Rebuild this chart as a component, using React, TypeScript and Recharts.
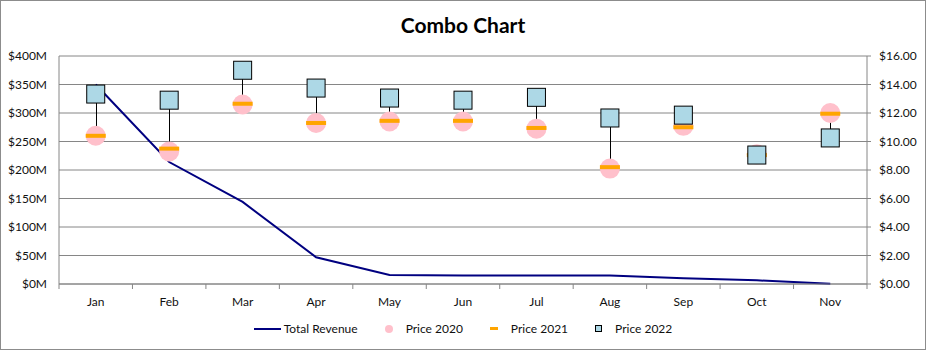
import React from "react";
import { ComposedChart, Line, Bar, XAxis, YAxis, CartesianGrid } from "recharts";

// values
const months = ["Jan", "Feb", "Mar", "Apr", "May", "Jun", "Jul", "Aug", "Sep", "Oct", "Nov"];
const totalRevenue = [350, 214, 144, 47, 16, 15, 15, 15, 10, 6.5, 0.5]; // $M
const price2020 = [10.4, 9.3, 12.6, 11.3, 11.4, 11.4, 10.9, 8.1, 11.1, 9.1, 12.0];
const price2021 = [10.4, 9.5, 12.65, 11.3, 11.45, 11.45, 10.95, 8.2, 11.0, 9.05, 11.95];
const price2022 = [13.33, 12.9, 15.0, 13.75, 13.05, 12.9, 13.1, 11.65, 11.85, 9.05, 10.25];
const revenueTicks = [0, 50, 100, 150, 200, 250, 300, 350, 400];
const priceTicks = [0, 2, 4, 6, 8, 10, 12, 14, 16];

const FONT = "Lato, 'Open Sans', sans-serif";
const GRID = "#868686";
const PLOT_W = 808;
const HALF_BAND = PLOT_W / months.length / 2;

const data = months.map((m, i) => {
  const prices = [price2020[i], price2021[i], price2022[i]];
  return {
    month: m,
    revenue: totalRevenue[i],
    p2020: price2020[i],
    p2021: price2021[i],
    p2022: price2022[i],
    hiLo: [Math.min(...prices), Math.max(...prices)],
  };
});

function MonthTick(props: any) {
  const { x, y, payload, index } = props;
  return (
    <g>
      <line x1={x - HALF_BAND} x2={x - HALF_BAND} y1={y} y2={y + 5} stroke={GRID} />
      {index === months.length - 1 && (
        <line x1={x + HALF_BAND} x2={x + HALF_BAND} y1={y} y2={y + 5} stroke={GRID} />
      )}
      <text x={x} y={y + 22} textAnchor="middle" fontSize={12} fontFamily={FONT} fill="#111">
        {payload.value}
      </text>
    </g>
  );
}

const pinkDot = (p: any) =>
  p.cx == null ? <g key={p.index} /> : <circle key={p.index} cx={p.cx} cy={p.cy} r={10} fill="#FFC0CB" />;

const orangeDash = (p: any) =>
  p.cx == null ? <g key={p.index} /> : <rect key={p.index} x={p.cx - 10} y={p.cy - 2} width={20} height={4} fill="#FFA500" />;

const blueSquare = (p: any) =>
  p.cx == null ? (
    <g key={p.index} />
  ) : (
    <rect key={p.index} x={p.cx - 9} y={p.cy - 9} width={18} height={18} fill="#ADD8E6" stroke="#000" strokeWidth={1} />
  );

const hiLoShape = (p: any) => {
  const cx = Math.round(p.x + p.width / 2) + 0.5;
  return <line x1={cx} x2={cx} y1={p.y} y2={p.y + p.height} stroke="#000" strokeWidth={1} />;
};

function LegendBar() {
  const item = (icon: React.ReactNode, label: string, gap: number) => (
    <div style={{ display: "flex", alignItems: "center" }}>
      {icon}
      <span style={{ marginLeft: gap }}>{label}</span>
    </div>
  );
  return (
    <div
      style={{
        position: "absolute",
        left: 0,
        top: 321,
        width: 926,
        display: "flex",
        justifyContent: "center",
        gap: 27,
        fontFamily: FONT,
        fontSize: 12,
        color: "#111",
      }}
    >
      {item(<div style={{ width: 27, height: 2, background: "#000080" }} />, "Total Revenue", 3)}
      {item(<div style={{ width: 8, height: 8, borderRadius: 4, background: "#FFC0CB" }} />, "Price 2020", 13)}
      {item(<div style={{ width: 8, height: 3, background: "#FFA500" }} />, "Price 2021", 13)}
      {item(
        <div style={{ width: 7, height: 7, background: "#ADD8E6", border: "1px solid #000", boxSizing: "border-box" }} />,
        "Price 2022",
        13
      )}
    </div>
  );
}

export default function App() {
  return (
    <div style={{ position: "absolute", left: 0, top: 0, width: 926, height: 350, background: "#fff" }}>
      <div
        style={{
          position: "absolute",
          left: 0,
          top: 12,
          width: 926,
          textAlign: "center",
          fontFamily: FONT,
          fontWeight: 700,
          fontSize: 21,
          color: "#000",
        }}
      >
        Combo Chart
      </div>
      <div style={{ position: "absolute", left: 0, top: 0 }}>
        <ComposedChart width={926} height={350} data={data} margin={{ top: 56, right: 0, bottom: 36, left: 0 }}>
          <CartesianGrid yAxisId="left" vertical={false} stroke={GRID} />
          <XAxis
            dataKey="month"
            height={30}
            interval={0}
            tickSize={0}
            tickMargin={0}
            tick={<MonthTick />}
            axisLine={{ stroke: GRID }}
          />
          <YAxis
            yAxisId="left"
            width={59}
            domain={[0, 400]}
            ticks={revenueTicks}
            tickFormatter={(v: number) => `$${v}M`}
            tickLine={false}
            tickSize={6}
            tickMargin={6}
            axisLine={{ stroke: GRID }}
            tick={{ fontSize: 12, fontFamily: FONT, fill: "#111" }}
          />
          <YAxis
            yAxisId="right"
            orientation="right"
            width={59}
            domain={[0, 16]}
            ticks={priceTicks}
            tickFormatter={(v: number) => `$${v.toFixed(2)}`}
            tickSize={4}
            tickMargin={8}
            tickLine={{ stroke: GRID }}
            axisLine={{ stroke: GRID }}
            tick={{ fontSize: 12, fontFamily: FONT, fill: "#111" }}
          />
          <Line
            yAxisId="left"
            type="linear"
            dataKey="revenue"
            stroke="#000080"
            strokeWidth={2}
            dot={false}
            activeDot={false}
            isAnimationActive={false}
          />
          <Bar yAxisId="right" dataKey="hiLo" barSize={1} shape={hiLoShape} isAnimationActive={false} />
          <Line yAxisId="right" dataKey="p2020" stroke="none" dot={pinkDot} activeDot={false} isAnimationActive={false} />
          <Line yAxisId="right" dataKey="p2021" stroke="none" dot={orangeDash} activeDot={false} isAnimationActive={false} />
          <Line yAxisId="right" dataKey="p2022" stroke="none" dot={blueSquare} activeDot={false} isAnimationActive={false} />
        </ComposedChart>
      </div>
      <LegendBar />
      <div
        style={{
          position: "absolute",
          left: 0,
          top: 0,
          width: 926,
          height: 350,
          border: "1px solid #8c8c8c",
          boxSizing: "border-box",
          pointerEvents: "none",
        }}
      />
    </div>
  );
}
